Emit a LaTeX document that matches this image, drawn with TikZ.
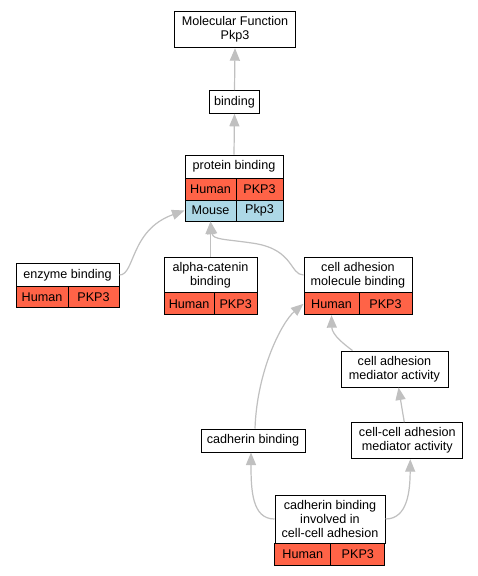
\documentclass[tikz,border=0pt]{standalone}
\usepackage{fontspec}
\setmainfont{Liberation Sans}
\usetikzlibrary{arrows.meta,calc}
\definecolor{hred}{HTML}{FF6347}
\definecolor{mblue}{HTML}{ADD8E6}
\definecolor{egray}{HTML}{C0C0C0}
\newcommand{\gofont}{\fontsize{12.6}{14}\selectfont}
\tikzset{
  gobox/.style={draw=black, line width=1pt, fill=white, inner sep=0pt, align=center, font=\gofont},
  hum/.style={gobox, fill=hred},
  mou/.style={gobox, fill=mblue},
  goedge/.style={draw=egray, line width=1.2pt, -{Triangle[length=12.5pt,width=10pt]}}
}
\begin{document}
\begin{tikzpicture}[x=1pt,y=-1pt]
\useasboundingbox[fill=white] (0,0) rectangle (477,576);
% nodes
\node[gobox, minimum width=120.7pt, minimum height=36pt] (mf) at (235,29.7) {Molecular Function\\Pkp3};
\node[gobox, minimum width=50.4pt, minimum height=22.6pt] (bind) at (234.5,102) {binding};
% protein binding
\node[gobox, minimum width=98pt, minimum height=23.3pt] (pb) at (234,166.7) {protein binding};
\node[hum, minimum width=51pt, minimum height=21.7pt] (pbH) at (210.5,189.2) {Human};
\node[hum, minimum width=47pt, minimum height=21.7pt] (pbHg) at (259.5,189.2) {PKP3};
\node[mou, minimum width=51pt, minimum height=21pt] (pbM) at (210.5,210.5) {Mouse};
\node[mou, minimum width=47pt, minimum height=21pt] (pbMg) at (259.5,210.5) {Pkp3};
% enzyme binding
\node[gobox, minimum width=103pt, minimum height=23.4pt] (eb) at (67.5,275) {enzyme binding};
\node[hum, minimum width=52pt, minimum height=21.3pt] (ebH) at (42,297.3) {Human};
\node[hum, minimum width=51pt, minimum height=21.3pt] (ebHg) at (93.5,297.3) {PKP3};
% alpha-catenin binding
\node[gobox, minimum width=93pt, minimum height=36pt] (ac) at (210.5,275) {alpha-catenin\\binding};
\node[hum, minimum width=50.3pt, minimum height=21.7pt] (acH) at (189.2,303.8) {Human};
\node[hum, minimum width=42.7pt, minimum height=21.7pt] (acHg) at (235.7,303.8) {PKP3};
% cell adhesion molecule binding
\node[gobox, minimum width=108pt, minimum height=36pt] (camb) at (358,275) {cell adhesion\\molecule binding};
\node[hum, minimum width=55pt, minimum height=21.7pt] (cambH) at (331.5,303.8) {Human};
\node[hum, minimum width=53pt, minimum height=21.7pt] (cambHg) at (385.5,303.8) {PKP3};
% cell adhesion mediator activity
\node[gobox, minimum width=107pt, minimum height=36pt] (cama) at (394.5,369) {cell adhesion\\mediator activity};
% cadherin binding
\node[gobox, minimum width=104pt, minimum height=23pt] (cb) at (253,440.5) {cadherin binding};
% cell-cell adhesion mediator activity
\node[gobox, minimum width=110.7pt, minimum height=36pt] (ccama) at (407.3,440.7) {cell-cell adhesion\\mediator activity};
% cadherin binding involved in cell-cell adhesion
\node[gobox, minimum width=110pt, minimum height=48pt] (cbi) at (330,519) {cadherin binding\\involved in\\cell-cell adhesion};
\node[hum, minimum width=55.7pt, minimum height=22pt] (cbiH) at (302.8,554) {Human};
\node[hum, minimum width=54.3pt, minimum height=22pt] (cbiHg) at (357.8,554) {PKP3};
% edges
\draw[goedge] (bind.north) -- (mf.south);
\draw[goedge] (pb.north) -- (bind.south);
\draw[goedge] (eb.east) .. controls (135,275) and (130,230) .. (pbM.west);
\draw[goedge] (ac.north) -- (pbM.south);
\draw[goedge] (camb.west) .. controls (290,275) and (294,250) .. (255,243.5) .. controls (226,239) and (213,240) .. (pbM.south);
\draw[goedge] ($(cb.north)+(2,0)$) .. controls (257,370) and (282,322) .. (cambH.west);
\draw[goedge] ($(cama.north west)+(12,0)$) .. controls (345,345) and (332,335) .. (cambH.south);
\draw[goedge] ($(ccama.north)+(-3,0)$) -- ($(cama.south)+(4,0)$);
\draw[goedge] (cbi.west) .. controls (252,519) and (251,490) .. ($(cb.south)+(-2,0)$);
\draw[goedge] (cbi.east) .. controls (408,519) and (410,490) .. ($(ccama.south)+(3,0)$);
\end{tikzpicture}
\end{document}
